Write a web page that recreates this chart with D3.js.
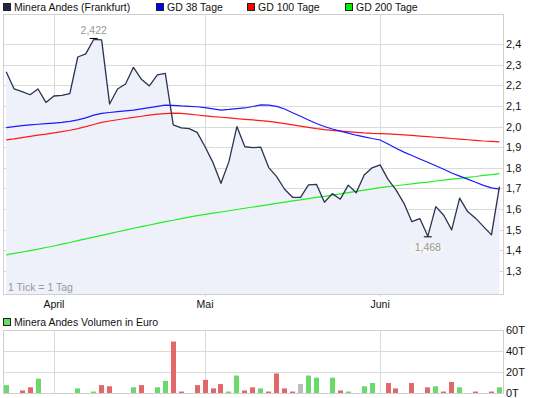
<!DOCTYPE html>
<html>
<head>
<meta charset="utf-8">
<script src="https://cdn.jsdelivr.net/npm/d3@7/dist/d3.min.js"></script>
<style>
  body { margin: 0; background: #fff; }
  svg { display: block; font-family: "Liberation Sans", Arial, sans-serif; }
</style>
</head>
<body>
<div id="chart"></div>
<script>
// trading days, one tick per day (index 0..62)
const monthLabels = ["April", "Mai", "Juni"];
const monthStart = [6, 25, 47];

const price = [
  2.266, 2.182, 2.169, 2.154, 2.182, 2.117, 2.148, 2.151, 2.159, 2.337,
  2.352, 2.422, 2.420, 2.109, 2.182, 2.206, 2.287, 2.229, 2.197, 2.250,
  2.258, 2.008, 1.994, 1.990, 1.972, 1.902, 1.825, 1.725, 1.830, 2.000,
  1.902, 1.898, 1.900, 1.801, 1.757, 1.696, 1.657, 1.657, 1.717, 1.720,
  1.633, 1.675, 1.648, 1.716, 1.679, 1.765, 1.800, 1.814, 1.744, 1.693,
  1.628, 1.539, 1.554, 1.468, 1.612, 1.570, 1.499, 1.653, 1.588, 1.556,
  1.515, 1.475, 1.709
];

const gd38 = [
  1.995, 2.000, 2.004, 2.008, 2.011, 2.014, 2.017, 2.020, 2.025, 2.032,
  2.042, 2.055, 2.064, 2.068, 2.072, 2.076, 2.080, 2.086, 2.092, 2.098,
  2.104, 2.103, 2.100, 2.098, 2.096, 2.092, 2.086, 2.080, 2.083, 2.087,
  2.090, 2.097, 2.105, 2.104, 2.098, 2.085, 2.067, 2.050, 2.032, 2.015,
  2.000, 1.988, 1.978, 1.968, 1.958, 1.950, 1.942, 1.935, 1.915, 1.895,
  1.876, 1.860, 1.843, 1.827, 1.810, 1.793, 1.775, 1.760, 1.745, 1.730,
  1.715, 1.703, 1.697
];

const gd100 = [
  1.935, 1.940, 1.946, 1.952, 1.958, 1.963, 1.969, 1.975, 1.982, 1.990,
  2.000, 2.010, 2.020, 2.027, 2.033, 2.039, 2.044, 2.050, 2.055, 2.060,
  2.063, 2.065, 2.064, 2.060, 2.056, 2.052, 2.048, 2.045, 2.042, 2.038,
  2.035, 2.032, 2.029, 2.025, 2.020, 2.014, 2.008, 2.002, 1.996, 1.990,
  1.985, 1.981, 1.978, 1.975, 1.972, 1.969, 1.967, 1.966, 1.964, 1.962,
  1.960, 1.957, 1.954, 1.951, 1.948, 1.945, 1.942, 1.939, 1.936, 1.933,
  1.930, 1.928, 1.926
];

const gd200 = [
  1.378, 1.385, 1.392, 1.399, 1.406, 1.414, 1.421, 1.430, 1.438, 1.447,
  1.456, 1.464, 1.473, 1.481, 1.490, 1.498, 1.507, 1.515, 1.523, 1.531,
  1.539, 1.546, 1.554, 1.561, 1.568, 1.574, 1.580, 1.586, 1.592, 1.598,
  1.604, 1.610, 1.616, 1.622, 1.628, 1.634, 1.640, 1.645, 1.651, 1.657,
  1.662, 1.668, 1.674, 1.680, 1.686, 1.692, 1.698, 1.704, 1.709, 1.713,
  1.718, 1.722, 1.727, 1.731, 1.736, 1.740, 1.745, 1.749, 1.754, 1.758,
  1.763, 1.767, 1.772
];

// volume in thousand euro (T)
const volume = [
  7.5, 0, 2.4, 5.4, 13.6, 0, 0, 0, 0, 4.4,
  0, 1.4, 7.5, 6.4, 0, 0, 5.4, 7.5, 0, 5.4,
  11.5, 49, 1.4, 0, 7.5, 12.5, 4.4, 8.5, 1.4, 16.6,
  2.4, 5.4, 4.4, 1.4, 18.6, 4.4, 1.4, 8.5, 16.6, 14.6,
  0, 14.6, 2.4, 1.4, 0, 6.4, 9.5, 0, 9.5, 4.4,
  0, 9.5, 0, 5.4, 6.4, 1.4, 10.5, 5.4, 0, 1.4,
  0, 1.4, 5.4
];
// g = up, r = down, n = unchanged
const volDir = "g.rrg....g.grr..gr.ggrr.rrrrggrrgrrrrngg.grg.gg.rr.r.rgrrg.r.rg".split("");

const priceTicks = [1.3, 1.4, 1.5, 1.6, 1.7, 1.8, 1.9, 2.0, 2.1, 2.2, 2.3, 2.4];
const volTicks = [0, 20, 40, 60];

const W = 545, H = 398;
const pLeft = 3, pRight = 503;
const pTop = 14, pBottom = 294;
const vTop = 330, vBottom = 393;
const gridCol = "#dadada";
const frameCol = "#d0d0d0";
const fs = 10.5;

const de = d3.formatLocale({decimal: ",", thousands: ".", grouping: [3], currency: ["", "€"]});
const fmt1 = de.format(".1f");
const fmt3 = de.format(".3f");

const svg = d3.select("#chart").append("svg")
  .attr("width", W).attr("height", H);

const x = d3.scaleLinear().domain([-0.4, 62.45]).range([pLeft, pRight]);
const y = d3.scaleLinear().domain([1.1885, 2.5454]).range([pBottom, pTop]);
const yv = d3.scaleLinear().domain([0, 60]).range([vBottom, vTop]);

// ---- legend
const legend = [
  {label: "Minera Andes (Frankfurt)", color: "#1c2745", x: 3},
  {label: "GD 38 Tage", color: "#0000ff", x: 156},
  {label: "GD 100 Tage", color: "#ff0000", x: 247},
  {label: "GD 200 Tage", color: "#00ee00", x: 345}
];
const lg = svg.append("g");
lg.selectAll("rect").data(legend).enter().append("rect")
  .attr("x", d => d.x + 0.5).attr("y", 3.5)
  .attr("width", 7).attr("height", 7)
  .attr("fill", d => d.color).attr("stroke", "#222");
lg.selectAll("text").data(legend).enter().append("text")
  .attr("x", d => d.x + 11).attr("y", 11)
  .attr("font-size", fs).attr("fill", "#111")
  .text(d => d.label);

// ---- main panel
const main = svg.append("g");

main.append("g").selectAll("line").data(priceTicks).enter().append("line")
  .attr("x1", pLeft).attr("x2", pRight)
  .attr("y1", d => Math.round(y(d)) + 0.5).attr("y2", d => Math.round(y(d)) + 0.5)
  .attr("stroke", gridCol);

main.append("g").selectAll("line").data(monthStart).enter().append("line")
  .attr("x1", d => Math.round(x(d)) + 0.5).attr("x2", d => Math.round(x(d)) + 0.5)
  .attr("y1", pTop).attr("y2", pBottom + 3)
  .attr("stroke", gridCol);

const area = d3.area()
  .x((d, i) => x(i))
  .y0(pBottom)
  .y1(d => y(d));
main.append("path").datum(price)
  .attr("d", area)
  .attr("fill", "#eef1f9");

// frame
main.append("rect")
  .attr("x", pLeft + 0.5).attr("y", pTop + 0.5)
  .attr("width", pRight - pLeft).attr("height", pBottom - pTop)
  .attr("fill", "none").attr("stroke", frameCol);

const line = d3.line().x((d, i) => x(i)).y(d => y(d));

const series = [
  {data: gd200, color: "#22ee22"},
  {data: gd100, color: "#ff1a1a"},
  {data: gd38, color: "#1a1aff"}
];
series.forEach(s => {
  main.append("path").datum(s.data)
    .attr("d", line)
    .attr("fill", "none")
    .attr("stroke", s.color)
    .attr("stroke-width", 1.2);
});

main.append("path").datum(price)
  .attr("d", line)
  .attr("fill", "none")
  .attr("stroke", "#2a3350")
  .attr("stroke-width", 1.3)
  .attr("stroke-linejoin", "round");

// high / low markers
const hiIdx = d3.maxIndex(price);
const loIdx = d3.minIndex(price);

main.append("line")
  .attr("x1", x(hiIdx) - 4).attr("x2", x(hiIdx) + 4)
  .attr("y1", y(price[hiIdx]) - 1).attr("y2", y(price[hiIdx]) - 1)
  .attr("stroke", "#000").attr("stroke-width", 1);
main.append("text")
  .attr("x", x(hiIdx)).attr("y", y(price[hiIdx]) - 5)
  .attr("text-anchor", "middle")
  .attr("font-size", fs).attr("fill", "#999")
  .text(fmt3(price[hiIdx]));

main.append("line")
  .attr("x1", x(loIdx) - 4).attr("x2", x(loIdx) + 4)
  .attr("y1", y(price[loIdx]) + 0.5).attr("y2", y(price[loIdx]) + 0.5)
  .attr("stroke", "#000").attr("stroke-width", 1);
main.append("rect")
  .attr("x", x(loIdx) - 17).attr("y", y(price[loIdx]) + 6.5)
  .attr("width", 33).attr("height", 10)
  .attr("fill", "#f4f4f4");
main.append("text")
  .attr("x", x(loIdx)).attr("y", y(price[loIdx]) + 15)
  .attr("text-anchor", "middle")
  .attr("font-size", fs).attr("fill", "#999")
  .text(fmt3(price[loIdx]));

main.append("text")
  .attr("x", 8).attr("y", 291)
  .attr("font-size", fs).attr("fill", "#999")
  .text("1 Tick = 1 Tag");

// y axis
const yAxis = d3.axisRight(y).tickValues(priceTicks).tickSize(0).tickPadding(0)
  .tickFormat(d => fmt1(d));
main.append("g")
  .attr("transform", `translate(${pRight + 3},0)`)
  .call(yAxis)
  .call(g => g.select(".domain").remove())
  .call(g => g.selectAll("text").attr("font-size", 11).attr("fill", "#111")
    .attr("font-family", "Liberation Sans, Arial, sans-serif"));

// month labels
main.append("g").selectAll("text").data(monthStart).enter().append("text")
  .attr("x", d => x(d)).attr("y", 308)
  .attr("text-anchor", "middle")
  .attr("font-size", fs).attr("fill", "#111")
  .text((d, i) => monthLabels[i]);

// ---- volume panel
const vol = svg.append("g");

vol.append("rect")
  .attr("x", 3.5).attr("y", 318.5).attr("width", 7).attr("height", 7)
  .attr("fill", "#66dd66").attr("stroke", "#222");
vol.append("text")
  .attr("x", 14).attr("y", 326)
  .attr("font-size", fs).attr("fill", "#111")
  .text("Minera Andes Volumen in Euro");

vol.append("g").selectAll("line").data(volTicks).enter().append("line")
  .attr("x1", pLeft).attr("x2", pRight)
  .attr("y1", d => Math.round(yv(d)) + 0.5).attr("y2", d => Math.round(yv(d)) + 0.5)
  .attr("stroke", gridCol);
vol.append("g").selectAll("line").data(monthStart).enter().append("line")
  .attr("x1", d => Math.round(x(d)) + 0.5).attr("x2", d => Math.round(x(d)) + 0.5)
  .attr("y1", vTop).attr("y2", vBottom)
  .attr("stroke", gridCol);
vol.append("rect")
  .attr("x", pLeft + 0.5).attr("y", vTop + 0.5)
  .attr("width", pRight - pLeft).attr("height", vBottom - vTop)
  .attr("fill", "none").attr("stroke", frameCol);

const barCol = {g: "#6ad86a", r: "#e06868", n: "#bdbdbd"};
vol.append("g").selectAll("rect")
  .data(volume.map((v, i) => ({v, i})).filter(d => d.v > 0))
  .enter().append("rect")
  .attr("x", d => Math.round(x(d.i) - 2.5))
  .attr("width", 5)
  .attr("y", d => yv(d.v))
  .attr("height", d => yv(0) - yv(d.v))
  .attr("fill", d => barCol[volDir[d.i]]);

const vAxis = d3.axisRight(yv).tickValues(volTicks).tickSize(0).tickPadding(0)
  .tickFormat(d => d + "T");
vol.append("g")
  .attr("transform", `translate(${pRight + 3},0)`)
  .call(vAxis)
  .call(g => g.select(".domain").remove())
  .call(g => g.selectAll("text").attr("font-size", 11).attr("fill", "#111")
    .attr("font-family", "Liberation Sans, Arial, sans-serif"));
</script>
</body>
</html>
